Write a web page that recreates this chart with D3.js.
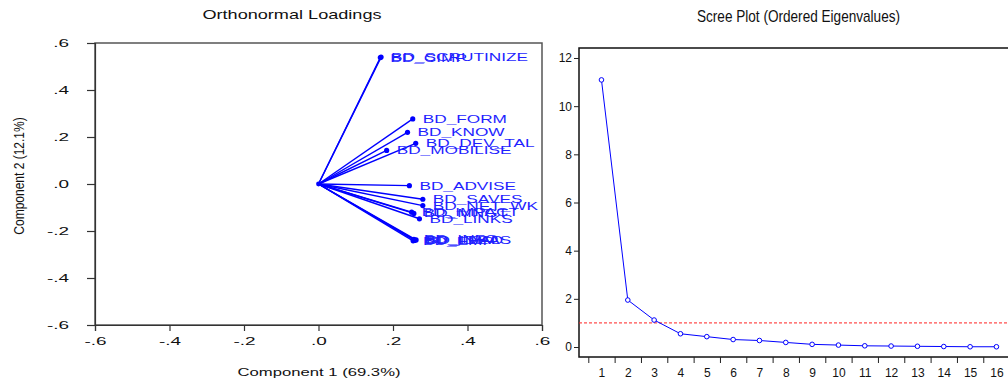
<!DOCTYPE html>
<html>
<head>
<meta charset="utf-8">
<script src="https://cdn.jsdelivr.net/npm/d3@7"></script>
<style>
  body { margin: 0; background: #fff; }
  svg { display: block; }
  text { font-family: "Liberation Sans", Arial, sans-serif; }
</style>
</head>
<body>
<svg id="chart" width="1008" height="384"></svg>
<script>
// loadings (component 1, component 2)
const loadNames = ['BD_CIMP', 'BD_SCRUTINIZE', 'BD_FORM', 'BD_KNOW', 'BD_DEV_TAL', 'BD_MOBILISE',
  'BD_ADVISE', 'BD_SAVES', 'BD_NET_WK', 'BD_IMPACT', 'BD_MNGT', 'BD_LINKS',
  'BD_IDEAS', 'BD_INFO', 'BD_LEAD', 'BD_EMP'];
const comp1 = [0.166, 0.168, 0.253, 0.239, 0.261, 0.183, 0.244, 0.280, 0.280, 0.250, 0.256, 0.271,
  0.262, 0.256, 0.258, 0.254];
const comp2 = [0.538, 0.540, 0.277, 0.220, 0.173, 0.143, -0.007, -0.065, -0.092, -0.120, -0.125, -0.148,
  -0.238, -0.236, -0.240, -0.242];
const loadTicks = [-0.6, -0.4, -0.2, 0, 0.2, 0.4, 0.6];

// scree plot
const eigenNum = [1, 2, 3, 4, 5, 6, 7, 8, 9, 10, 11, 12, 13, 14, 15, 16];
const eigenVals = [11.09, 1.95, 1.12, 0.55, 0.43, 0.31, 0.27, 0.19, 0.11, 0.08, 0.05, 0.04, 0.03, 0.02, 0.01, 0.01];
const eigenTicks = [0, 2, 4, 6, 8, 10, 12];
const cutoff = 1;

const svg = d3.select('#chart');
const blue = '#0000ff';

// stretch text horizontally (keeps x position)
function stretch(sel, sx) {
  sel.each(function() {
    const t = d3.select(this);
    const x = +t.attr('x') || 0;
    t.attr('x', x / sx).attr('transform', `scale(${sx},1)`);
  });
}

const fmtLoad = d => d3.format('.1f')(d).replace('0.', '.').replace('−', '-');

// ---------------- left: orthonormal loadings ----------------
const xL = d3.scaleLinear().domain([-0.6, 0.6]).range([95, 542]);
const yL = d3.scaleLinear().domain([-0.6, 0.6]).range([325, 43]);

svg.append('rect')
    .attr('x', xL(-0.6)).attr('y', yL(0.6))
    .attr('width', xL(0.6) - xL(-0.6)).attr('height', yL(-0.6) - yL(0.6))
    .attr('fill', 'none').attr('stroke', '#555').attr('stroke-width', 1.5);

const gxL = svg.append('g').attr('transform', `translate(0,${yL(-0.6)})`)
    .call(d3.axisBottom(xL).tickValues(loadTicks).tickSize(6).tickPadding(6).tickFormat(fmtLoad));
const gyL = svg.append('g').attr('transform', `translate(${xL(-0.6)},0)`)
    .call(d3.axisLeft(yL).tickValues(loadTicks).tickSize(8).tickPadding(18).tickFormat(fmtLoad));
[gxL, gyL].forEach(g => {
  g.selectAll('text').attr('font-size', 11.5).attr('fill', '#111').attr('font-family', null);
  g.selectAll('path, line').attr('stroke', '#333').attr('stroke-width', 1.2);
});
stretch(gxL.selectAll('text'), 1.65);
stretch(gyL.selectAll('text'), 1.65);

svg.append('text')
    .attr('transform', `translate(292,19) scale(1.45,1)`)
    .attr('text-anchor', 'middle').attr('font-size', 12.5).attr('fill', '#111')
    .text('Orthonormal Loadings');
svg.append('text')
    .attr('transform', `translate(319,376) scale(1.45,1)`)
    .attr('text-anchor', 'middle').attr('font-size', 11.5).attr('fill', '#111')
    .text('Component 1 (69.3%)');
svg.append('text')
    .attr('transform', `translate(24,176) rotate(-90) scale(0.8,1)`)
    .attr('text-anchor', 'middle').attr('font-size', 15).attr('fill', '#111')
    .text('Component 2 (12.1%)');

const loads = loadNames.map((n, i) => ({name: n, c1: comp1[i], c2: comp2[i]}));
const lg = svg.append('g');
lg.selectAll('line.vec').data(loads).enter().append('line')
    .attr('x1', xL(0)).attr('y1', yL(0))
    .attr('x2', d => xL(d.c1)).attr('y2', d => yL(d.c2))
    .attr('stroke', blue).attr('stroke-width', 1.4);
lg.selectAll('circle').data(loads).enter().append('circle')
    .attr('cx', d => xL(d.c1)).attr('cy', d => yL(d.c2)).attr('r', 2.6)
    .attr('fill', blue);
lg.append('circle').attr('cx', xL(0)).attr('cy', yL(0)).attr('r', 2.4).attr('fill', blue);
lg.selectAll('text').data(loads).enter().append('text')
    .attr('transform', d => `translate(${xL(d.c1) + 10},${yL(d.c2) + 4}) scale(1.5,1)`)
    .attr('font-size', 11.5).attr('fill', '#1f1fff')
    .text(d => d.name);

// ---------------- right: scree plot ----------------
const R = {left: 579, right: 1020, top: 48, bottom: 357};
const xR = d3.scaleLinear().domain([0.5, 16.5]).range([588.3, 1009.6]);
const yR = d3.scaleLinear().domain([-0.415, 12.415]).range([R.bottom, R.top]);

svg.append('rect')
    .attr('x', R.left).attr('y', R.top)
    .attr('width', R.right - R.left).attr('height', R.bottom - R.top)
    .attr('fill', 'none').attr('stroke', '#111').attr('stroke-width', 1.5);

const gyR = svg.append('g').attr('transform', `translate(${R.left},0)`)
    .call(d3.axisLeft(yR).tickValues(eigenTicks).tickSize(5).tickPadding(2));
gyR.select('.domain').remove();

const bounds = d3.range(0.5, 17, 1);
const gxR = svg.append('g').attr('transform', `translate(0,${R.bottom})`)
    .call(d3.axisBottom(xR).tickValues(bounds).tickSize(6).tickFormat(''));
gxR.select('.domain').remove();
const gxRl = svg.append('g').attr('transform', `translate(0,${R.bottom})`)
    .call(d3.axisBottom(xR).tickValues(eigenNum).tickSize(0).tickPadding(11).tickFormat(d3.format('d')));
gxRl.select('.domain').remove();
[gyR, gxR, gxRl].forEach(g => {
  g.selectAll('text').attr('font-size', 12).attr('fill', '#111').attr('font-family', null);
  g.selectAll('line').attr('stroke', '#222');
});

svg.append('text')
    .attr('transform', `translate(798.5,22) scale(0.85,1)`)
    .attr('text-anchor', 'middle').attr('font-size', 16).attr('fill', '#111')
    .text('Scree Plot (Ordered Eigenvalues)');

svg.append('line')
    .attr('x1', R.left).attr('x2', R.right)
    .attr('y1', yR(cutoff)).attr('y2', yR(cutoff))
    .attr('stroke', '#ff2020').attr('stroke-width', 1).attr('stroke-dasharray', '3,2');

const eig = eigenNum.map((n, i) => ({n: n, v: eigenVals[i]}));
svg.append('path').datum(eig)
    .attr('d', d3.line().x(d => xR(d.n)).y(d => yR(d.v)))
    .attr('fill', 'none').attr('stroke', blue).attr('stroke-width', 1);
svg.selectAll('circle.eig').data(eig).enter().append('circle')
    .attr('class', 'eig')
    .attr('cx', d => xR(d.n)).attr('cy', d => yR(d.v)).attr('r', 2.3)
    .attr('fill', '#fff').attr('stroke', blue).attr('stroke-width', 1);
</script>
</body>
</html>
